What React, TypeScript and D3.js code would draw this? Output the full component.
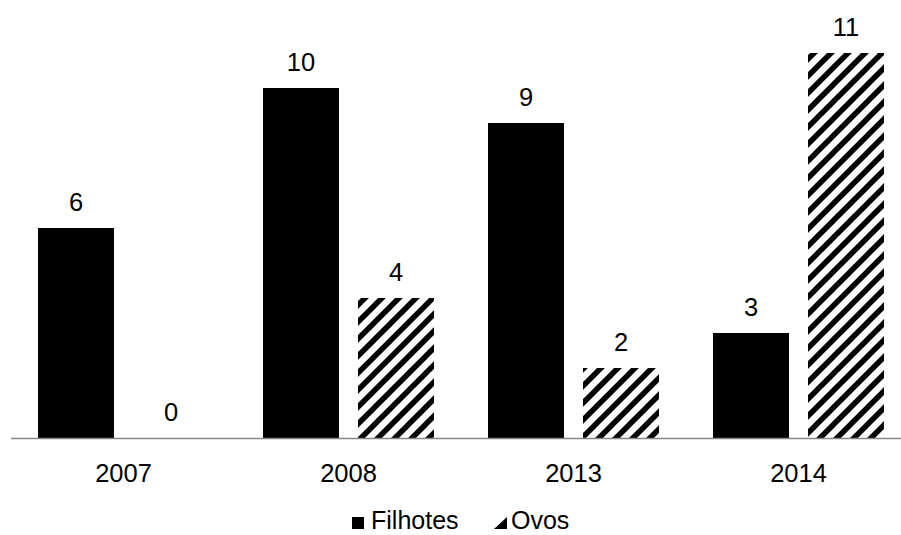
import { useEffect, useRef } from 'react'
import * as d3 from 'd3'

const years = ['2007', '2008', '2013', '2014']
const filhotes = [6, 10, 9, 3]
const ovos = [0, 4, 2, 11]
const seriesNames = ['Filhotes', 'Ovos']

const width = 901
const height = 535

export default function App() {
  const svgRef = useRef<SVGSVGElement>(null)

  useEffect(() => {
    if (!svgRef.current) return
    const svg = d3.select(svgRef.current)
    svg.selectAll('*').remove()

    const font = '"Liberation Sans", Arial, sans-serif'
    const fs = '25.5px'

    // hatch for Ovos
    const defs = svg.append('defs')
    const pat = defs.append('pattern')
      .attr('id', 'hatch')
      .attr('patternUnits', 'userSpaceOnUse')
      .attr('width', 17)
      .attr('height', 17)
    pat.append('rect').attr('width', 17).attr('height', 17).attr('fill', '#fff')
    pat.append('path')
      .attr('d', 'M-2,19 L19,-2 M-6,6 L6,-6 M11,23 L23,11')
      .attr('stroke', '#000')
      .attr('stroke-width', 5.5)

    const x0 = d3.scaleBand().domain(years).range([11, 911]).paddingInner(0).paddingOuter(0)
    const x1 = d3.scaleBand().domain(seriesNames).range([27, 198]).paddingInner(0.2).paddingOuter(0)
    const y = d3.scaleLinear().domain([0, 12]).range([438, 18])

    const rows = years.map((yr, i) => ({ yr, vals: [filhotes[i], ovos[i]] }))

    const g = svg.append('g')
    rows.forEach(r => {
      r.vals.forEach((v, j) => {
        const name = seriesNames[j]
        const bx = x0(r.yr)! + x1(name)!
        g.append('rect')
          .attr('x', bx)
          .attr('y', y(v))
          .attr('width', x1.bandwidth())
          .attr('height', y(0) - y(v))
          .attr('fill', j === 0 ? '#000' : 'url(#hatch)')
        g.append('text')
          .attr('x', bx + x1.bandwidth() / 2)
          .attr('y', y(v) - 17)
          .attr('text-anchor', 'middle')
          .style('font-family', font)
          .style('font-size', fs)
          .style('fill', '#000')
          .text(v)
      })
    })

    // axis line
    svg.append('line')
      .attr('x1', 11).attr('x2', 901)
      .attr('y1', y(0) + 0.5).attr('y2', y(0) + 0.5)
      .attr('stroke', '#868686')
      .attr('stroke-width', 1.5)

    years.forEach(yr => {
      svg.append('text')
        .attr('x', x0(yr)! + x0.bandwidth() / 2)
        .attr('y', 482)
        .attr('text-anchor', 'middle')
        .style('font-family', font)
        .style('font-size', fs)
        .text(yr)
    })

    // legend
    const lg = svg.append('g')
    lg.append('rect').attr('x', 352).attr('y', 517).attr('width', 12).attr('height', 12).attr('fill', '#000')
    lg.append('text').attr('x', 371).attr('y', 529)
      .style('font-family', font).style('font-size', '25px').text('Filhotes')
    lg.append('path')
      .attr('d', 'M494,529 L507,517 L507,529 Z')
      .attr('fill', '#000')
    lg.append('text').attr('x', 511).attr('y', 529)
      .style('font-family', font).style('font-size', '25px').text('Ovos')
  }, [])

  return (
    <svg
      ref={svgRef}
      width={width}
      height={height}
      style={{ position: 'absolute', left: 0, top: 0 }}
    />
  )
}
